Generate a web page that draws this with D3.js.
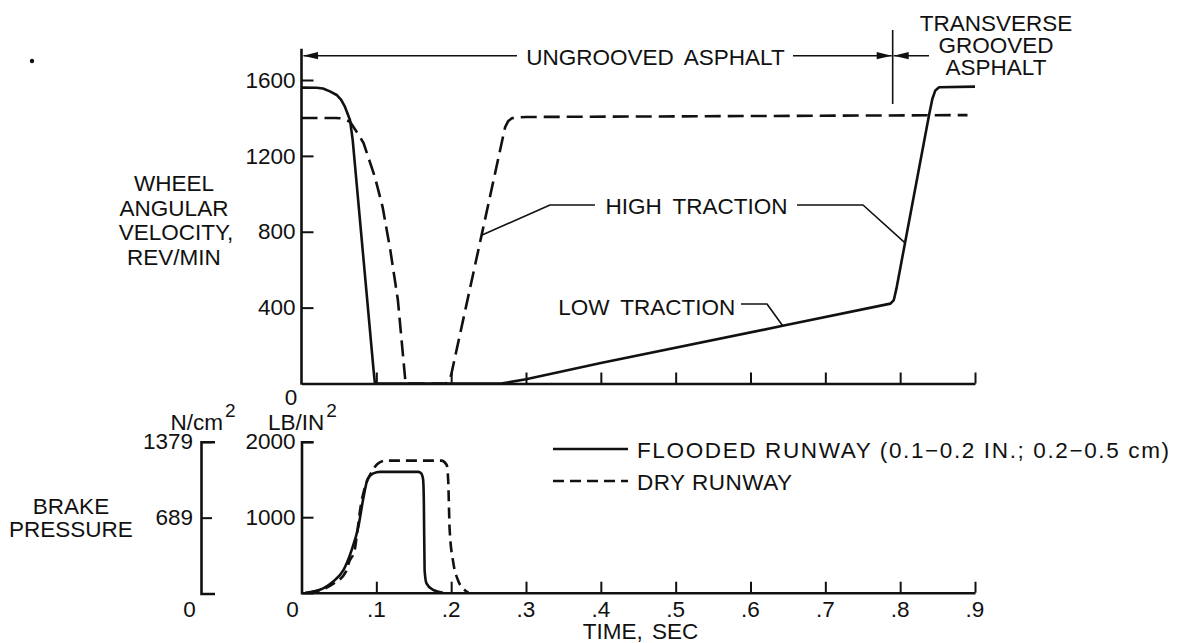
<!DOCTYPE html>
<html>
<head>
<meta charset="utf-8">
<script src="https://cdn.jsdelivr.net/npm/d3@7"></script>
<style>
  body { margin: 0; background: #fff; }
  svg text { font-family: "Liberation Sans", Arial, sans-serif; font-size: 22.5px; fill: #111; }
</style>
</head>
<body>
<svg id="chart" width="1180" height="643"></svg>
<script>
// ---- data -------------------------------------------------------------
// shared time axis (sec)
const timeTicks = [0, 0.1, 0.2, 0.3, 0.4, 0.5, 0.6, 0.7, 0.8, 0.9];
const timeTickLabels = ["0", ".1", ".2", ".3", ".4", ".5", ".6", ".7", ".8", ".9"];

// wheel angular velocity, rev/min
const velTicks = [400, 800, 1200, 1600];
const floodedVelT = [0, 0.02, 0.0287, 0.038, 0.047, 0.053, 0.058, 0.0648, 0.0684, 0.0961, 0.0981,
                     0.267, 0.3, 0.4, 0.643, 0.787, 0.7915, 0.795, 0.839, 0.843, 0.847, 0.852, 0.9];
const floodedVelV = [1560, 1559, 1555, 1540, 1521, 1495, 1459, 1389, 1284, 80, 0,
                     0, 22, 108, 304, 421, 440, 500, 1424, 1500, 1545, 1562, 1565];
const dryVelT = [0, 0.045, 0.0514, 0.058, 0.0648, 0.0737, 0.0829, 0.0981, 0.1084, 0.1187, 0.1288, 0.1375, 0.1391,
                 0.193, 0.197, 0.2, 0.203, 0.2406, 0.272, 0.276, 0.281, 0.287, 0.3, 0.6, 0.89];
const dryVelV = [1400, 1400, 1398, 1392, 1380, 1327, 1268, 1088, 930, 703, 440, 68, 0,
                 0, 12, 45, 100, 781, 1350, 1382, 1398, 1403, 1405, 1410, 1415];

// brake pressure, lb/in^2 (and N/cm^2 companion scale)
const pressTicksLb = [1000, 2000];
const pressTicksN = [689, 1379];
const floodedPressT = [0.005, 0.029, 0.042, 0.056, 0.067, 0.076, 0.083, 0.088, 0.096, 0.105,
                       0.156, 0.16, 0.1625, 0.1635, 0.1645, 0.167, 0.176, 0.189];
const floodedPressP = [0, 58, 146, 300, 565, 874, 1272, 1493, 1581, 1600,
                       1600, 1580, 1500, 1200, 300, 124, 36, 0];
const dryPressT = [0.01, 0.042, 0.06, 0.0637, 0.071, 0.0737, 0.079, 0.085, 0.094, 0.1025, 0.114,
                   0.187, 0.194, 0.196, 0.198, 0.203, 0.209, 0.218, 0.223];
const dryPressP = [0, 115, 290, 410, 560, 742, 1139, 1404, 1603, 1714, 1750,
                   1750, 1691, 1493, 830, 389, 168, 36, 0];

// ---- scales ------------------------------------------------------------
const svg = d3.select("#chart");
const x = d3.scaleLinear().domain([0, 0.9]).range([301.5, 975]);
const yVel = d3.scaleLinear().domain([0, 1600]).range([383.5, 80]);
const yLb = d3.scaleLinear().domain([0, 2000]).range([592.7, 441.7]);
const yN = d3.scaleLinear().domain([0, 1379]).range([593.5, 441.7]);
const velAxisTop = 1765;
const intFmt = d3.format("d");

const ink = "#111";
const solidW = 2.6, thinW = 1.6;

function zip(ts, vs) { return ts.map((t, i) => ({ t, v: vs[i] })); }
function interp(ts, vs, t) {
  const i = d3.bisectRight(ts, t) - 1;
  const f = (t - ts[i]) / (ts[i + 1] - ts[i]);
  return vs[i] + f * (vs[i + 1] - vs[i]);
}

// ---- upper panel: wheel angular velocity -------------------------------
const velLine = d3.line().x(d => x(d.t)).y(d => yVel(d.v)).curve(d3.curveLinear);
const pressLine = d3.line().x(d => x(d.t)).y(d => yLb(d.v)).curve(d3.curveMonotoneX);

function styleAxis(g, tickW) {
  g.selectAll(".domain").attr("stroke", ink).attr("stroke-width", solidW);
  g.selectAll(".tick line").attr("stroke", ink).attr("stroke-width", tickW);
  g.attr("font-size", null).attr("font-family", null);
  g.selectAll("text").attr("fill", ink);
}

// time axis (no labels) under upper panel
const gTopX = svg.append("g")
  .attr("transform", `translate(0,${yVel(0)})`)
  .call(d3.axisBottom(x).tickValues(timeTicks.slice(1)).tickSize(-11).tickSizeOuter(0).tickFormat(""));
styleAxis(gTopX, 2);

// velocity axis
svg.append("line")
  .attr("x1", x(0)).attr("x2", x(0))
  .attr("y1", yVel(0) + 1.2).attr("y2", yVel(velAxisTop))
  .attr("stroke", ink).attr("stroke-width", solidW);
const gVel = svg.append("g")
  .attr("transform", `translate(${x(0)},0)`)
  .call(d3.axisLeft(yVel).tickValues(velTicks).tickSize(-12).tickPadding(6).tickFormat(intFmt));
gVel.select(".domain").remove();
styleAxis(gVel, 2);
svg.append("text").attr("x", 291).attr("y", yVel(0) + 13.5).attr("dy", "0.35em")
  .attr("text-anchor", "middle").text("0");

svg.append("path").datum(zip(floodedVelT, floodedVelV))
  .attr("d", velLine).attr("fill", "none").attr("stroke", ink)
  .attr("stroke-width", solidW).attr("stroke-linejoin", "round");
svg.append("path").datum(zip(dryVelT, dryVelV))
  .attr("d", velLine).attr("fill", "none").attr("stroke", ink)
  .attr("stroke-width", solidW).attr("stroke-linejoin", "round").attr("stroke-dasharray", "16 7");

// axis title
const velTitle = ["WHEEL", "ANGULAR", "VELOCITY,", "REV/MIN"];
svg.append("g").selectAll("text").data(velTitle).join("text")
  .attr("x", (d, i) => i === 2 ? 176 : 174)
  .attr("y", (d, i) => 183 + i * 24.7)
  .attr("dy", "0.35em").attr("text-anchor", "middle").text(d => d);

// ---- surface annotation across the top --------------------------------
function arrowHead(tipX, tipY, dir) {
  const len = 15, hw = 3.6;
  svg.append("path")
    .attr("d", `M${tipX},${tipY}L${tipX - dir * len},${tipY - hw}L${tipX - dir * len},${tipY + hw}Z`)
    .attr("fill", ink);
}
const boundaryT = 0.79;
const spanY = 55.7;
svg.append("line").attr("x1", x(boundaryT)).attr("x2", x(boundaryT))
  .attr("y1", 30).attr("y2", 104).attr("stroke", ink).attr("stroke-width", thinW);
svg.append("line").attr("x1", x(0) + 2).attr("x2", 517).attr("y1", spanY).attr("y2", spanY)
  .attr("stroke", ink).attr("stroke-width", thinW);
arrowHead(x(0) + 1.5, spanY, -1);
svg.append("text").attr("x", 655.5).attr("y", 57).attr("dy", "0.35em")
  .attr("text-anchor", "middle").attr("word-spacing", "5").text("UNGROOVED ASPHALT");
svg.append("line").attr("x1", 793).attr("x2", x(boundaryT) - 1).attr("y1", spanY).attr("y2", spanY)
  .attr("stroke", ink).attr("stroke-width", thinW);
arrowHead(x(boundaryT) - 1, spanY, 1);
svg.append("line").attr("x1", x(boundaryT) + 1).attr("x2", 929).attr("y1", spanY).attr("y2", spanY)
  .attr("stroke", ink).attr("stroke-width", thinW);
arrowHead(x(boundaryT) + 1, spanY, -1);
svg.append("g").selectAll("text").data(["TRANSVERSE", "GROOVED", "ASPHALT"]).join("text")
  .attr("x", 996).attr("y", (d, i) => 23 + i * 22)
  .attr("dy", "0.35em").attr("text-anchor", "middle").text(d => d);

// ---- curve call-outs ----------------------------------------------------
function leader(pts) {
  svg.append("path").attr("d", d3.line()(pts)).attr("fill", "none")
    .attr("stroke", ink).attr("stroke-width", thinW).attr("stroke-linejoin", "round");
}
const highDryT = 0.2406, highFloodT = 0.8065, lowT = 0.643;
svg.append("text").attr("x", 696.5).attr("y", 206).attr("dy", "0.35em")
  .attr("text-anchor", "middle").attr("word-spacing", "5").text("HIGH TRACTION");
leader([[595, 205], [550, 205], [x(highDryT), yVel(interp(dryVelT, dryVelV, highDryT))]]);
leader([[797, 205], [863, 205], [x(highFloodT), yVel(interp(floodedVelT, floodedVelV, highFloodT))]]);
svg.append("text").attr("x", 646.7).attr("y", 306.7).attr("dy", "0.35em")
  .attr("text-anchor", "middle").attr("word-spacing", "5").text("LOW TRACTION");
leader([[741, 304], [767, 304], [x(lowT), yVel(interp(floodedVelT, floodedVelV, lowT))]]);

// ---- lower panel: brake pressure ----------------------------------------
const gBotX = svg.append("g")
  .attr("transform", `translate(0,${yLb(0)})`)
  .call(d3.axisBottom(x).tickValues(timeTicks.slice(1)).tickSize(-11).tickSizeOuter(0).tickFormat(""));
styleAxis(gBotX, 2);
svg.append("g").selectAll("text").data(timeTicks).join("text")
  .attr("x", (d, i) => i === 0 ? x(d) - 9 : x(d))
  .attr("y", yLb(0) + 16).attr("dy", "0.35em")
  .attr("text-anchor", "middle").text((d, i) => timeTickLabels[i]);
svg.append("text").attr("x", x(0.453)).attr("y", 631).attr("dy", "0.35em")
  .attr("text-anchor", "middle").attr("word-spacing", "3").text("TIME, SEC");

const gLb = svg.append("g")
  .attr("transform", `translate(${x(0)},0)`)
  .call(d3.axisLeft(yLb).tickValues(pressTicksLb).tickSize(-12).tickSizeOuter(-12).tickPadding(6).tickFormat(intFmt));
styleAxis(gLb, 2);

const nAxisX = 201;
const gN = svg.append("g")
  .attr("transform", `translate(${nAxisX},0)`)
  .call(d3.axisLeft(yN).tickValues(pressTicksN).tickSize(-11).tickSizeOuter(-14).tickPadding(8).tickFormat(intFmt));
styleAxis(gN, 2);
svg.append("text").attr("x", nAxisX - 11.5).attr("y", 609).attr("dy", "0.35em")
  .attr("text-anchor", "middle").text("0");

// unit labels; the squared exponent is its own raised text
function unitLabel(x0, label) {
  const t = svg.append("text").attr("x", x0).attr("y", 429.5).text(label);
  const w = t.node().getComputedTextLength();
  svg.append("text").attr("x", x0 + w + 2).attr("y", 417)
    .attr("font-size", "19px").style("font-size", "19px").text("2");
}
unitLabel(170.5, "N/cm");
unitLabel(268, "LB/IN");

svg.append("g").selectAll("text").data(["BRAKE", "PRESSURE"]).join("text")
  .attr("x", 71).attr("y", (d, i) => 506 + i * 23)
  .attr("dy", "0.35em").attr("text-anchor", "middle").text(d => d);

svg.append("path").datum(zip(floodedPressT, floodedPressP))
  .attr("d", pressLine).attr("fill", "none").attr("stroke", ink)
  .attr("stroke-width", solidW).attr("stroke-linejoin", "round");
svg.append("path").datum(zip(dryPressT, dryPressP))
  .attr("d", pressLine).attr("fill", "none").attr("stroke", ink)
  .attr("stroke-width", solidW).attr("stroke-dasharray", "11 6");

// ---- legend --------------------------------------------------------------
const legendItems = [
  { label: "FLOODED RUNWAY (0.1\u22120.2 IN.; 0.2\u22120.5 cm)", dash: null, y: 449, width: 532 },
  { label: "DRY RUNWAY", dash: "11 6", y: 481, width: 155 }
];
const gLeg = svg.append("g");
legendItems.forEach(it => {
  gLeg.append("line").attr("x1", 553).attr("x2", 628).attr("y1", it.y).attr("y2", it.y)
    .attr("stroke", ink).attr("stroke-width", solidW)
    .attr("stroke-dasharray", it.dash);
  gLeg.append("text").attr("x", 637).attr("y", it.y + 1).attr("dy", "0.35em")
    .attr("textLength", it.width).attr("lengthAdjust", "spacing").text(it.label);
});

// stray speck near the top-left corner of the sheet
svg.append("circle").attr("cx", 32).attr("cy", 61).attr("r", 2.2).attr("fill", ink);
</script>
</body>
</html>
